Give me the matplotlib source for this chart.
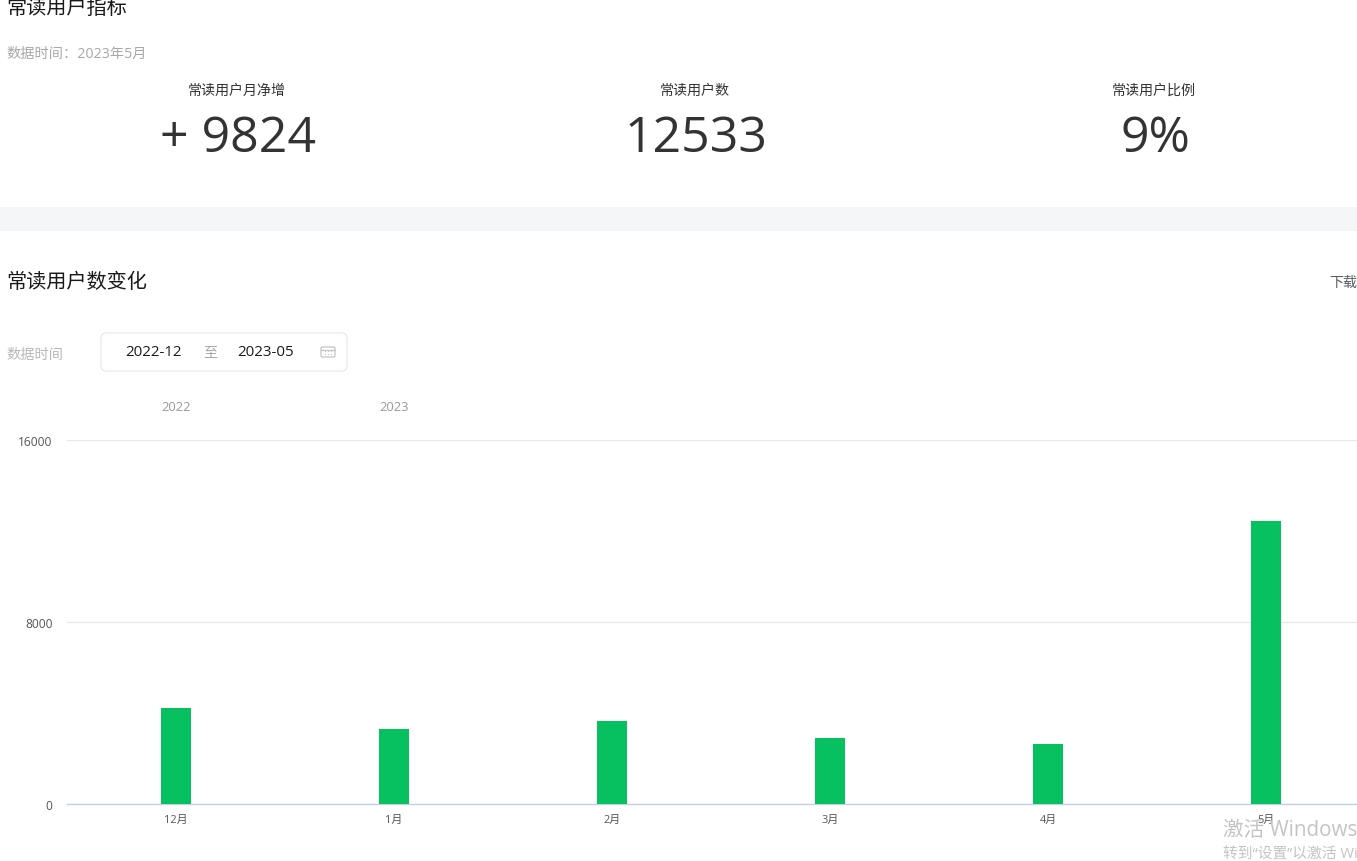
import matplotlib
matplotlib.use('Agg')
import matplotlib.pyplot as plt
from matplotlib.patches import Rectangle, FancyBboxPatch
from matplotlib.lines import Line2D

plt.rcParams['font.family'] = ['Open Sans', 'Noto Sans CJK SC', 'DejaVu Sans']

W, H = 1357, 862

# chart data
months = ['12月', '1月', '2月', '3月', '4月', '5月']
users = [4220, 3300, 3650, 2900, 2640, 12450]
y_ticks = [0, 8000, 16000]
year_labels = ['2022', '2023']
year_pos = [0, 1]

# cards
card_titles = ['常读用户月净增', '常读用户数', '常读用户比例']
card_values = ['+ 9824', '12533', '9%']
card_x = [238, 696, 1155]

fig = plt.figure(figsize=(W / 100, H / 100), dpi=100, facecolor='white')


def pt(px):
    return px * 72 / 100


def fy(y):
    # screen pixel row to figure fraction
    return 1 - (y + 1) / H


def put(x, y, s, size, color, ha='left', **kw):
    fig.text(x / W, fy(y), s, fontsize=pt(size), color=color, ha=ha, va='center', **kw)


# grey band between the two sections
fig.add_artist(Rectangle((0, fy(231)), 1, 24 / H, transform=fig.transFigure,
                         facecolor='#f5f6f7', edgecolor='none'))

# top section
put(6, 7.5, '常读用户指标', 20.2, '#1a1a1a')
put(6, 53, '数据时间：2023年5月', 14.2, '#a8a8a8')
for x, t, v in zip(card_x, card_titles, card_values):
    put(x - 1, 90, t, 14, '#333333', ha='center')
    put(x, 138, v, 50, '#333333', ha='center')

# lower section header
put(6, 282, '常读用户数变化', 20.2, '#1a1a1a')
put(1357, 282, '下载', 14, '#555b66', ha='right')
put(6, 354, '数据时间', 14.2, '#b8b8b8')

# date picker
fig.add_artist(FancyBboxPatch((101 / W, fy(371)), 246 / W, 38 / H,
                              boxstyle='round,pad=0,rounding_size=0.004',
                              transform=fig.transFigure, mutation_aspect=W / H,
                              facecolor='white', edgecolor='#e6e7ea', linewidth=0.8))
put(154, 352, '2022-12', 15, '#1a1a1a', ha='center')
put(210, 352, '至', 14, '#a8a8a8', ha='center')
put(266, 352, '2023-05', 15, '#1a1a1a', ha='center')

# calendar icon
fig.add_artist(FancyBboxPatch((321 / W, fy(357)), 14 / W, 10 / H,
                              boxstyle='round,pad=0,rounding_size=0.001',
                              transform=fig.transFigure, mutation_aspect=W / H,
                              facecolor='white', edgecolor='#c4c4c4', linewidth=0.9))
fig.add_artist(Line2D([321 / W, 335 / W], [fy(349.5)] * 2, color='#c4c4c4', lw=0.9))
for ix in (325, 328, 331):
    for iy in (352, 355):
        fig.add_artist(Rectangle((ix / W, fy(iy)), 1.2 / W, 1.2 / H,
                                 facecolor='#c4c4c4', edgecolor='none',
                                 transform=fig.transFigure))

# bar chart, right side cut off like the screenshot
ax = fig.add_axes([67 / W, fy(804), (1357 - 67) / W, 364 / H])
ax.set_facecolor('none')
ax.bar(range(len(months)), users, width=30 / 218, color='#07c160', zorder=3)
ax.set_xlim(-0.5, (1357 - 176) / 218)
ax.set_ylim(0, 16000)
ax.set_yticks(y_ticks)
ax.set_yticklabels([str(v) for v in y_ticks], va='center_baseline')
ax.set_xticks(range(len(months)))
ax.set_xticklabels(months)
ax.tick_params(axis='both', length=0, labelcolor='#555555')
ax.tick_params(axis='y', pad=10.5, labelsize=pt(12))
ax.tick_params(axis='x', pad=7, labelsize=pt(11))
ax.grid(axis='y', color='#e4e7ec', linewidth=0.9, zorder=0)
for side in ['top', 'right', 'left']:
    ax.spines[side].set_visible(False)
ax.spines['bottom'].set_color('#c0d0e6')
ax.spines['bottom'].set_linewidth(1.0)

# year labels above the bars
for p, s in zip(year_pos, year_labels):
    ax.annotate(s, (p, 16000), xytext=(0, pt(33)), textcoords='offset points',
                ha='center', va='center', fontsize=pt(13), color='#9a9a9a',
                annotation_clip=False)

# windows activation watermark
put(1223, 830, '激活 Windows', 20.6, '#c4c4c4')
put(1223, 853, '转到“设置”以激活 Windows。', 14.8, '#c4c4c4')

fig.savefig('out.png', dpi=100)
